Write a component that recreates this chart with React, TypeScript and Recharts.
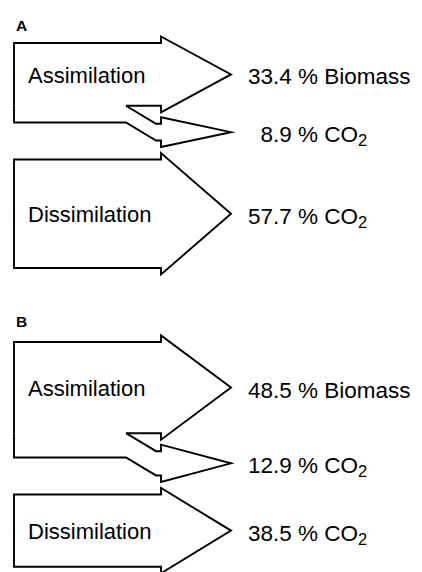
import React from 'react';
import { BarChart, Bar, XAxis, YAxis } from 'recharts';

// ---- data (percent of carbon flow) ----
const panels = ['A', 'B'];
const biomassPct = [33.4, 48.5];
const assimCO2Pct = [8.9, 12.9];
const dissimCO2Pct = [57.7, 38.5];
const processLabels = ['Assimilation', 'Dissimilation'];
const productLabels = ['Biomass', 'CO'];

// ---- style / layout constants ----
const W = 422;
const FONT = '"Liberation Sans", Arial, Helvetica, sans-serif';
const INK = '#000';
const SW = 1.9;
const OH = 6.5; // arrowhead overhang beyond band
const GAP = 37; // gap between assimilation and dissimilation arrows (px)
const DROP = 18; // downward bend of the assimilation CO2 band (px)
const HEAD_FRAC = 147 / 217;
const NOTCH_FRAC = 112 / 217;
const BEND_FRAC = 142 / 217;
const PLOT_LEFT = 14;
const PLOT_RIGHT = 231;
const PLOT_H = 188;
const layout = [
  { top: 0, height: 290, marginTop: 43, letterTop: 17 },
  { top: 290, height: 282, marginTop: 52, letterTop: 22.5 },
];

const norm = (p: any) => {
  const y0 = Math.min(p.y, p.y + p.height);
  const y1 = Math.max(p.y, p.y + p.height);
  return { x0: p.x, x1: p.x + p.width, y0, y1, w: p.width };
};

const valueText = (x: number, y: number, value: number, name: string, sub?: string) => (
  <text x={x + (value < 10 ? 12.5 : 0)} y={y} fontSize={22.5} fontFamily={FONT} fill={INK}>
    {`${value.toFixed(1)} % ${name}`}
    {sub ? (
      <tspan fontSize={16.5} dy={4}>
        {sub}
      </tspan>
    ) : null}
  </text>
);

const labelText = (x: number, y: number, s: string) => (
  <text x={x} y={y} fontSize={22} fontFamily={FONT} fill={INK}>
    {s}
  </text>
);

const BiomassShape = (props: any) => {
  const { x0, x1, y0, y1, w } = norm(props);
  const hb = x0 + HEAD_FRAC * w;
  const nx = x0 + NOTCH_FRAC * w;
  const mid = (y0 + y1) / 2;
  const d = `M${nx},${y1} L${hb},${y1} L${hb},${y1 + OH} L${x1},${mid} L${hb},${y0 - OH} L${hb},${y0} L${x0},${y0} L${x0},${y1}`;
  return (
    <g>
      <path d={d} fill="none" stroke={INK} strokeWidth={SW} strokeLinejoin="miter" strokeMiterlimit={12} />
      {labelText(x0 + 14, mid + 8.5, processLabels[0])}
      {valueText(x1 + 17, mid + 10, props.payload.biomass, productLabels[0])}
    </g>
  );
};

const AssimCO2Shape = (props: any) => {
  const { x0, x1, y0, y1, w } = norm(props);
  const hb = x0 + HEAD_FRAC * w;
  const nx = x0 + NOTCH_FRAC * w;
  const bx = x0 + BEND_FRAC * w;
  const a0 = y0 + DROP;
  const a1 = y1 + DROP;
  const mid = (a0 + a1) / 2;
  const d = `M${x0},${y0} L${x0},${y1} L${nx},${y1} L${bx},${a1} L${hb},${a1} L${hb},${a1 + OH} L${x1},${mid} L${hb},${a0 - OH} L${hb},${a0} L${bx},${a0} L${nx},${y0}`;
  return (
    <g>
      <path d={d} fill="none" stroke={INK} strokeWidth={SW} strokeLinejoin="miter" strokeMiterlimit={12} />
      {valueText(x1 + 17, mid + 10, props.payload.co2a, productLabels[1], '2')}
    </g>
  );
};

const DissimShape = (props: any) => {
  const { x0, x1, y0: t0, y1: t1, w } = norm(props);
  const y0 = t0 + GAP;
  const y1 = t1 + GAP;
  const hb = x0 + HEAD_FRAC * w;
  const mid = (y0 + y1) / 2;
  const d = `M${x0},${y0} L${hb},${y0} L${hb},${y0 - OH} L${x1},${mid} L${hb},${y1 + OH} L${hb},${y1} L${x0},${y1} Z`;
  return (
    <g>
      <path d={d} fill="none" stroke={INK} strokeWidth={SW} strokeLinejoin="miter" strokeMiterlimit={12} />
      {labelText(x0 + 14, mid + 8.5, processLabels[1])}
      {valueText(x1 + 17, mid + 10, props.payload.co2d, productLabels[1], '2')}
    </g>
  );
};

const Panel = ({ i }: { i: number }) => {
  const L = layout[i];
  const data = [
    { panel: panels[i], biomass: biomassPct[i], co2a: assimCO2Pct[i], co2d: dissimCO2Pct[i] },
  ];
  return (
    <div style={{ position: 'absolute', left: 0, top: L.top, width: W, height: L.height }}>
      <div
        style={{
          position: 'absolute',
          left: 16,
          top: L.letterTop,
          fontFamily: FONT,
          fontSize: 15.5,
          fontWeight: 700,
          lineHeight: '18px',
          color: INK,
          zIndex: 2,
        }}
      >
        {panels[i]}
      </div>
      <BarChart
        width={W}
        height={L.height}
        data={data}
        margin={{ top: L.marginTop, right: W - PLOT_RIGHT, bottom: L.height - L.marginTop - PLOT_H, left: PLOT_LEFT }}
        barCategoryGap={0}
        barGap={0}
      >
        <XAxis dataKey="panel" type="category" hide />
        <YAxis type="number" domain={[0, 100]} reversed hide />
        <Bar dataKey="biomass" stackId="s" shape={BiomassShape} isAnimationActive={false} />
        <Bar dataKey="co2a" stackId="s" shape={AssimCO2Shape} isAnimationActive={false} />
        <Bar dataKey="co2d" stackId="s" shape={DissimShape} isAnimationActive={false} />
      </BarChart>
    </div>
  );
};

export default function App() {
  return (
    <div style={{ position: 'absolute', left: 0, top: 0, width: W, height: 572, background: '#fff', overflow: 'hidden' }}>
      <Panel i={0} />
      <Panel i={1} />
    </div>
  );
}
